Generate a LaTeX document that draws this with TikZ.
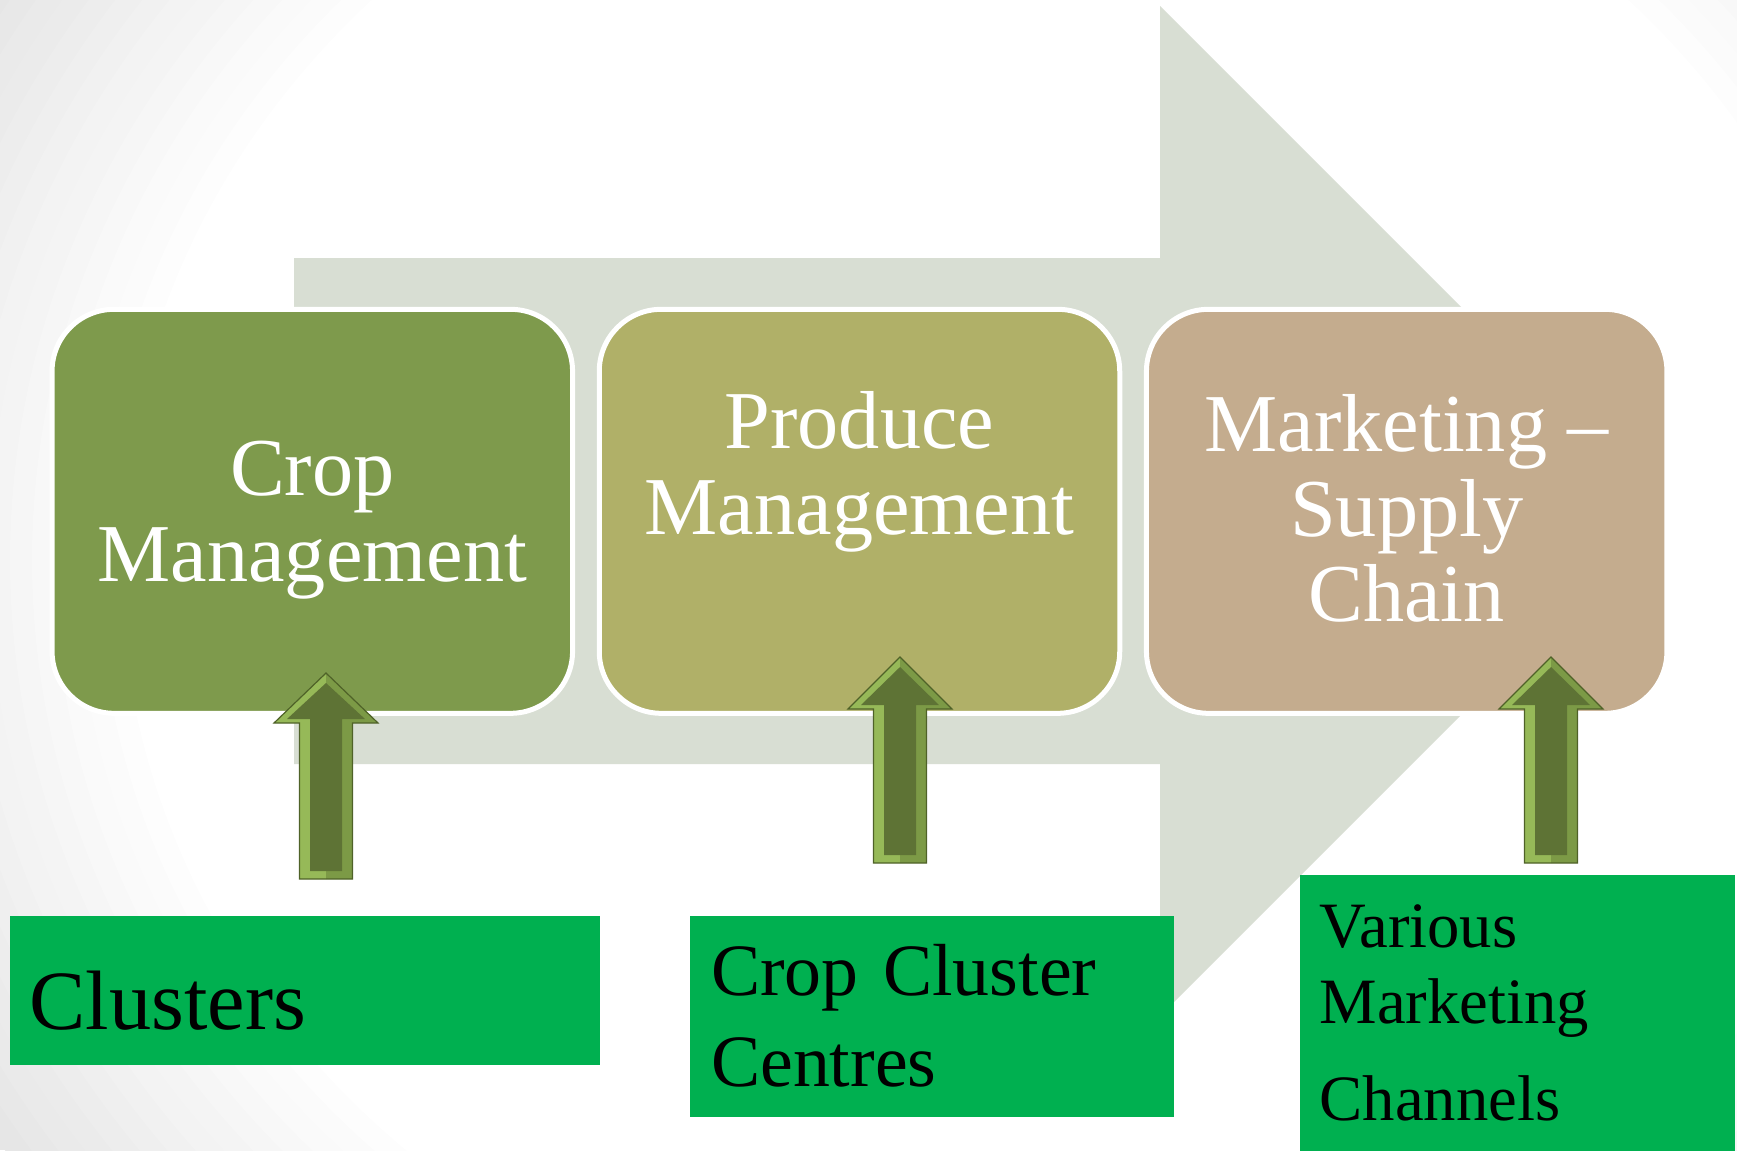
\documentclass[tikz,border=0pt]{standalone}
\usepackage{fontspec}
\setmainfont{Liberation Serif}
\usepackage{tikz}
\usetikzlibrary{calc,positioning}
\definecolor{bggray}{RGB}{230,230,230}
\definecolor{flowgray}{RGB}{216,222,211}
\definecolor{cropcol}{RGB}{126,154,76}
\definecolor{producecol}{RGB}{176,176,104}
\definecolor{marketcol}{RGB}{196,172,142}
\definecolor{sourcecol}{RGB}{0,176,80}
\definecolor{arrowline}{RGB}{79,98,40}
\definecolor{arrowlight}{RGB}{150,185,88}
\definecolor{arrowmid}{RGB}{124,154,70}
\definecolor{arrowdark}{RGB}{94,115,53}
\tikzset{%
	stage/.style  = {draw=white, line width=0.5mm, rounded corners=6.2mm, outer sep=0pt, minimum width=52.05mm, minimum height=40.4mm, inner sep=0pt, align=center, text=white, font=\fontsize{23.4}{24.3}\selectfont},
	source/.style = {fill=sourcecol, anchor=north west, inner xsep=2mm, inner ysep=0pt, align=left, text=black},
	upedge/.style = {draw=arrowline, line width=0.12mm, line join=miter},
}

\begin{document}
\begin{tikzpicture}[x=0.1mm, y=-0.1mm]
	\useasboundingbox (0,0) rectangle (1737,1150);
	\clip (0,0) rectangle (1737,1150);
	% background, grey towards the corners
	\fill[bggray] (0,0) rectangle (1737,1150);
	\foreach \r in {54,53,...,40}{
		\pgfmathsetmacro\p{(54-\r)/14*100}
		\fill[white!\p!bggray] (1000,560) ellipse [x radius=22*\r, y radius=20*\r];
	}
	% big flow arrow
	\fill[flowgray] (294,258) -- (1160,258) -- (1160,6) -- (1665,511) -- (1160,1016) -- (1160,764) -- (294,764) -- cycle;
	% stages
	\node[stage, fill=cropcol, text depth=0pt] (crop) at (312.3,511.3) {Crop\\Management};
	\node[stage, fill=producecol, text depth=1.1mm, right=2.67mm of crop] (produce) {Produce\\Management\\~};
	\node[stage, fill=marketcol, text depth=0.66mm, right=2.67mm of produce] (market) {Marketing --\\Supply\\Chain};
	% up arrows
	\foreach \cx/\ty/\wy/\fy in {326/673/723/879, 900/657/709/863, 1551/657/709/863}{
		\fill[arrowlight] (\cx,\ty) -- (\cx-52,\wy) -- (\cx-26.5,\wy) -- (\cx-26.5,\fy) -- (\cx,\fy) -- cycle;
		\fill[arrowmid] (\cx,\ty) -- (\cx+52,\wy) -- (\cx+26.5,\wy) -- (\cx+26.5,\fy) -- (\cx,\fy) -- cycle;
		\fill[arrowdark] (\cx,\ty+10) -- (\cx-39,\wy-4) -- (\cx-16,\wy-4) -- (\cx-16,\fy-8) -- (\cx+16,\fy-8) -- (\cx+16,\wy-4) -- (\cx+39,\wy-4) -- cycle;
		\draw[upedge] (\cx,\ty) -- (\cx-52,\wy) -- (\cx-26.5,\wy) -- (\cx-26.5,\fy) -- (\cx+26.5,\fy) -- (\cx+26.5,\wy) -- (\cx+52,\wy) -- cycle;
	}
	% sources
	\node[source, text width=55mm, minimum height=14.88mm, text height=7.8mm, text depth=0pt, font=\fontsize{24}{28}\selectfont] (clusters) at (8.9,915) {Clusters};
	\node[source, inner xsep=2.15mm, text width=44.1mm, minimum height=20.1mm, font=\fontsize{21}{25.9}\selectfont] (centres) at (688.8,915) {Crop Cluster\\Centres};
	\node[source, text width=39.5mm, minimum height=27.6mm, font=\fontsize{18.4}{21.8}\selectfont] (channels) at (1299,874) {Various\\Marketing\\[5.6pt]Channels};
\end{tikzpicture}
\end{document}
